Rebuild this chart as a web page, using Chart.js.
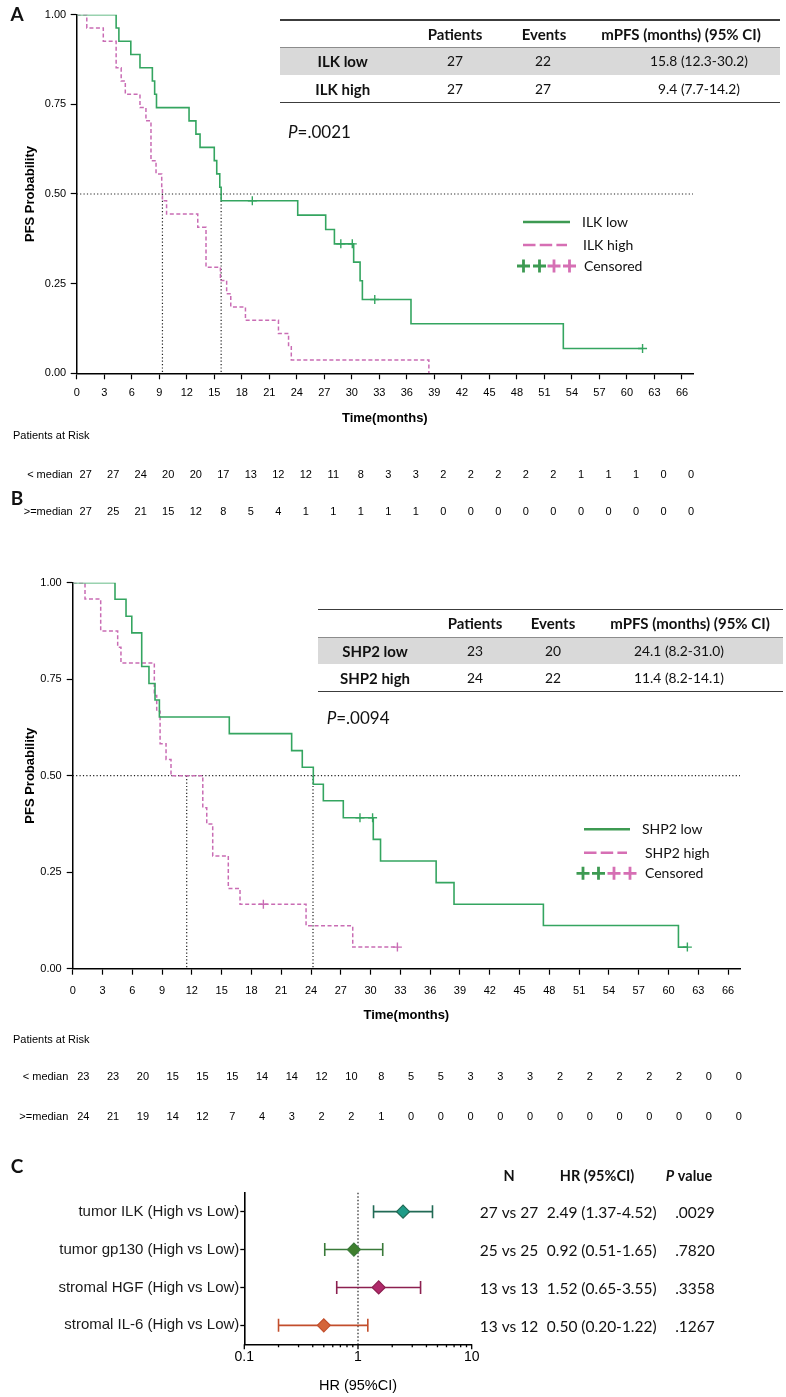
<!DOCTYPE html>
<html>
<head>
<meta charset="utf-8">
<title>PFS by ILK and SHP2 expression</title>
<script src="https://cdn.jsdelivr.net/npm/chart.js@4.4.1/dist/chart.umd.min.js"></script>
<style>
  html, body { margin: 0; padding: 0; background: #fff; }
  #page { position: relative; width: 786px; height: 1397px; overflow: hidden; }
  #page canvas { position: absolute; left: 0; top: 0; }
  .t { position: absolute; white-space: nowrap; font-family: Lato, sans-serif; font-size: 13.8px;
       color: #111; line-height: 1; transform: translate(-50%, -50%); }
  .left { transform: translate(0, -50%); }
  .b { font-weight: bold; font-size: 15px; }
  .rule { position: absolute; background: #3c3c3c; }
  .band { position: absolute; background: #d9d9d9; border-top: 1px solid #8c8c8c; box-sizing: border-box; }
</style>
</head>
<body>
<div id="page">
  <canvas id="kmA" width="786" height="1397"></canvas>
  <canvas id="kmB" width="786" height="1397"></canvas>
  <canvas id="forest" width="786" height="1397"></canvas>
</div>
<script>
// ---------- data ----------
const timeTicks = [0, 3, 6, 9, 12, 15, 18, 21, 24, 27, 30, 33, 36, 39, 42, 45, 48, 51, 54, 57, 60, 63, 66];
const probTicks = [0, 0.25, 0.5, 0.75, 1];

// Panel A - ILK
const ilkLowTime = [0, 4.3, 4.6, 5.9, 6.9, 8.25, 8.5, 8.7, 12.25, 13.0, 13.45, 15.0, 15.27, 15.6, 15.75, 24.1, 27.15, 28.1, 30.2, 30.9, 31.15, 36.45, 53.06, 61.7];
const ilkLowSurv = [1, 0.963, 0.926, 0.889, 0.852, 0.815, 0.778, 0.741, 0.704, 0.667, 0.630, 0.593, 0.556, 0.519, 0.481, 0.441, 0.401, 0.361, 0.310, 0.258, 0.206, 0.138, 0.069, 0.069];
const ilkLowCensTime = [19.15, 28.8, 30.05, 32.5, 61.7];
const ilkLowCensSurv = [0.481, 0.361, 0.361, 0.206, 0.069];
const ilkHighTime = [0, 1.1, 2.9, 4.3, 4.85, 5.3, 6.9, 7.55, 8.1, 8.65, 9.27, 9.35, 9.8, 13.2, 14.1, 15.67, 16.35, 16.8, 18.4, 22.0, 23.1, 23.4, 38.4];
const ilkHighSurv = [1, 0.963, 0.926, 0.852, 0.815, 0.778, 0.741, 0.704, 0.593, 0.556, 0.519, 0.481, 0.444, 0.407, 0.296, 0.259, 0.222, 0.185, 0.148, 0.111, 0.074, 0.037, 0];
const ilkHighCensTime = [];
const ilkHighCensSurv = [];
const ilkMedians = [9.35, 15.75];
const ilkRiskLow = [27, 27, 24, 20, 20, 17, 13, 12, 12, 11, 8, 3, 3, 2, 2, 2, 2, 2, 1, 1, 1, 0, 0];
const ilkRiskHigh = [27, 25, 21, 15, 12, 8, 5, 4, 1, 1, 1, 1, 1, 0, 0, 0, 0, 0, 0, 0, 0, 0, 0];

// Panel B - SHP2
const shpLowTime = [0, 4.26, 5.37, 5.95, 6.95, 7.68, 8.29, 8.73, 15.77, 22.05, 23.12, 24.23, 25.24, 27.25, 30.27, 31.0, 36.6, 38.4, 47.4, 61.0, 61.9];
const shpLowSurv = [1, 0.957, 0.913, 0.870, 0.783, 0.739, 0.696, 0.652, 0.609, 0.565, 0.522, 0.478, 0.435, 0.391, 0.335, 0.279, 0.223, 0.167, 0.112, 0.056, 0.056];
const shpLowCensTime = [28.93, 30.2, 61.9];
const shpLowCensSurv = [0.391, 0.391, 0.056];
const shpHighTime = [0, 1.24, 2.82, 4.53, 4.86, 8.22, 8.46, 8.8, 9.4, 9.9, 13.1, 13.5, 14.1, 15.67, 16.85, 23.5, 28.2, 32.7];
const shpHighSurv = [1, 0.958, 0.875, 0.833, 0.792, 0.708, 0.667, 0.583, 0.542, 0.5, 0.417, 0.375, 0.292, 0.208, 0.167, 0.111, 0.056, 0.056];
const shpHighCensTime = [19.2, 32.7];
const shpHighCensSurv = [0.167, 0.056];
const shpMedians = [11.48, 24.2];
const shpRiskLow = [23, 23, 20, 15, 15, 15, 14, 14, 12, 10, 8, 5, 5, 3, 3, 3, 2, 2, 2, 2, 2, 0, 0];
const shpRiskHigh = [24, 21, 19, 14, 12, 7, 4, 3, 2, 2, 1, 0, 0, 0, 0, 0, 0, 0, 0, 0, 0, 0, 0];

// summary tables
const tableHead = ['Patients', 'Events', 'mPFS (months) (95% CI)'];
const ilkGroups = ['ILK low', 'ILK high'];
const ilkPatients = [27, 27];
const ilkEvents = [22, 27];
const ilkMpfs = ['15.8 (12.3-30.2)', '9.4 (7.7-14.2)'];
const shpGroups = ['SHP2 low', 'SHP2 high'];
const shpPatients = [23, 24];
const shpEvents = [20, 22];
const shpMpfs = ['24.1 (8.2-31.0)', '11.4 (8.2-14.1)'];

// Panel C - forest plot
const forestLabels = ['tumor ILK (High vs Low)', 'tumor gp130 (High vs Low)', 'stromal HGF (High vs Low)', 'stromal IL-6 (High vs Low)'];
const forestHR = [2.49, 0.92, 1.52, 0.50];
const forestLo = [1.37, 0.51, 0.65, 0.20];
const forestHi = [4.52, 1.65, 3.55, 1.22];
const forestN = ['27 vs 27', '25 vs 25', '13 vs 13', '13 vs 12'];
const forestP = ['.0029', '.7820', '.3358', '.1267'];
const forestFill = ['#1e9c88', '#3f7f2e', '#b0296a', '#d4653a'];
const forestLine = ['#216a55', '#3a7a3a', '#8c2050', '#c24e2c'];
const hrTicks = [0.1, 1, 10];
const hrMinor = [0.2, 0.3, 0.4, 0.5, 0.6, 0.7, 0.8, 0.9, 2, 3, 4, 5, 6, 7, 8, 9];

// ---------- styling ----------
const GREEN = '#34a560';
const PINK = '#c96cb4';
const LEG_GREEN = '#3d9a52';
const LEG_PINK = '#d66fb4';
const TXT = 'Lato, sans-serif';

Chart.defaults.font.family = '"Liberation Sans", Arial, sans-serif';
Chart.defaults.color = '#000';

const pts = (xs, ys) => xs.map((x, i) => ({ x: x, y: ys[i] }));

// dotted median lines, risk table and legend for a KM panel
const kmExtras = {
  id: 'kmExtras',
  beforeDatasetsDraw(chart, args, o) {
    const { ctx, scales: { x, y } } = chart;
    ctx.save();
    ctx.strokeStyle = '#222';
    ctx.lineWidth = 1.2;
    ctx.setLineDash([1.2, 2.2]);
    ctx.beginPath();
    const yh = y.getPixelForValue(0.5);
    ctx.moveTo(x.left, yh);
    ctx.lineTo(x.right, yh);
    o.medians.forEach(m => {
      const px = x.getPixelForValue(m);
      ctx.moveTo(px, yh);
      ctx.lineTo(px, y.getPixelForValue(0));
    });
    ctx.stroke();
    ctx.restore();
  },
  afterDraw(chart, args, o) {
    const { ctx, scales: { x } } = chart;
    ctx.save();
    // patients at risk
    const r = o.risk;
    ctx.fillStyle = '#000';
    ctx.font = '11px "Liberation Sans", Arial';
    ctx.textBaseline = 'middle';
    ctx.textAlign = 'left';
    ctx.fillText('Patients at Risk', 13, r.titleY);
    ctx.textAlign = 'right';
    ctx.fillText('< median', r.labelX, r.rowY[0]);
    ctx.fillText('>=median', r.labelX, r.rowY[1]);
    ctx.textAlign = 'center';
    timeTicks.forEach((t, i) => {
      const px = x.getPixelForValue(t) + r.dx;
      ctx.fillText(String(r.low[i]), px, r.rowY[0]);
      ctx.fillText(String(r.high[i]), px, r.rowY[1]);
    });
    // legend
    const lg = o.legend;
    ctx.lineWidth = 2.6;
    ctx.strokeStyle = LEG_GREEN;
    ctx.beginPath(); ctx.moveTo(lg.x1, lg.ys[0]); ctx.lineTo(lg.x2, lg.ys[0]); ctx.stroke();
    ctx.strokeStyle = LEG_PINK;
    ctx.setLineDash([12.5, 4.2]);
    ctx.beginPath(); ctx.moveTo(lg.x1, lg.ys[1]); ctx.lineTo(lg.x2 - 3, lg.ys[1]); ctx.stroke();
    ctx.setLineDash([]);
    ctx.lineWidth = 2.8;
    lg.plusX.forEach((px, i) => {
      ctx.strokeStyle = i < 2 ? LEG_GREEN : LEG_PINK;
      ctx.beginPath();
      ctx.moveTo(px - 6.5, lg.ys[2]); ctx.lineTo(px + 6.5, lg.ys[2]);
      ctx.moveTo(px, lg.ys[2] - 6.5); ctx.lineTo(px, lg.ys[2] + 6.5);
      ctx.stroke();
    });
    ctx.fillStyle = '#111';
    ctx.font = '14px ' + TXT;
    ctx.textAlign = 'left';
    lg.labels.forEach((s, i) => ctx.fillText(s, lg.textX[i], lg.ys[i] + 0.5));
    ctx.restore();
  }
};

function kmChart(id, o) {
  return new Chart(document.getElementById(id), {
    type: 'line',
    data: {
      datasets: [
        { data: pts(o.lowT, o.lowS), stepped: true, borderColor: GREEN, borderWidth: 1.6, pointRadius: 0, fill: false },
        { data: pts(o.highT, o.highS), stepped: true, borderColor: PINK, borderWidth: 1.5, borderDash: [4, 2.5], pointRadius: 0, fill: false },
        { type: 'scatter', data: pts(o.lowCT, o.lowCS), pointStyle: 'cross', pointRadius: 4.5, borderColor: GREEN, borderWidth: 1.4, showLine: false },
        { type: 'scatter', data: pts(o.highCT, o.highCS), pointStyle: 'cross', pointRadius: 4.5, borderColor: PINK, borderWidth: 1.4, showLine: false }
      ]
    },
    options: {
      responsive: false,
      animation: false,
      events: [],
      layout: { padding: o.pad },
      plugins: { legend: { display: false }, tooltip: { enabled: false }, kmExtras: o.extras },
      scales: {
        x: {
          type: 'linear', min: 0, max: 67.2,
          afterBuildTicks: s => { s.ticks = timeTicks.map(v => ({ value: v })); },
          afterFit: s => { s.height = 57; },
          grid: { drawOnChartArea: false, color: '#000', tickLength: 6, tickWidth: 1.2 },
          border: { color: '#000', width: 1.5 },
          ticks: { font: { size: 11 }, padding: o.xpad, maxRotation: 0, autoSkip: false },
          title: { display: true, text: 'Time(months)', font: { size: 13, weight: 'bold' }, padding: { top: 0, bottom: o.tpad } }
        },
        y: {
          min: 0, max: 1,
          afterBuildTicks: s => { s.ticks = probTicks.map(v => ({ value: v })); },
          afterFit: s => { s.width = o.yw; },
          grid: { drawOnChartArea: false, color: '#000', tickLength: 6, tickWidth: 1.2 },
          border: { color: '#000', width: 1.5 },
          ticks: { font: { size: 11 }, padding: o.ypad, callback: v => v.toFixed(2) },
          title: { display: true, text: 'PFS Probability', font: { size: 13, weight: 'bold' }, padding: { top: 23, bottom: 0 } }
        }
      }
    },
    plugins: [kmExtras]
  });
}

kmChart('kmA', {
  lowT: ilkLowTime, lowS: ilkLowSurv, lowCT: ilkLowCensTime, lowCS: ilkLowCensSurv,
  highT: ilkHighTime, highS: ilkHighSurv, highCT: ilkHighCensTime, highCS: ilkHighCensSurv,
  pad: { top: 14.7, right: 93, bottom: 1397 - 430.3, left: 0 },
  yw: 76.7, xpad: 7, ypad: 4.5, tpad: 4.5,
  extras: {
    medians: ilkMedians,
    risk: { titleY: 436, rowY: [475, 511.7], labelX: 72.7, dx: 9, low: ilkRiskLow, high: ilkRiskHigh },
    legend: { x1: 523, x2: 570, ys: [222, 245, 266], plusX: [523.5, 539.5, 554, 569.5],
              textX: [582, 583, 584], labels: ['ILK low', 'ILK high', 'Censored'] }
  }
});

kmChart('kmB', {
  lowT: shpLowTime, lowS: shpLowSurv, lowCT: shpLowCensTime, lowCS: shpLowCensSurv,
  highT: shpHighTime, highS: shpHighSurv, highCT: shpHighCensTime, highCS: shpHighCensSurv,
  pad: { top: 582.7, right: 46, bottom: 1397 - 1025.7, left: 0 },
  yw: 72.7, xpad: 9.4, ypad: 5, tpad: 2,
  extras: {
    medians: shpMedians,
    risk: { titleY: 1040, rowY: [1077, 1117], labelX: 68.3, dx: 10.6, low: shpRiskLow, high: shpRiskHigh },
    legend: { x1: 584, x2: 630, ys: [829.3, 852.7, 873.3], plusX: [583, 598.5, 614, 630],
              textX: [642, 645, 645], labels: ['SHP2 low', 'SHP2 high', 'Censored'] }
  }
});

// error bars, axis ticks and right-hand columns for the forest plot
const forestExtras = {
  id: 'forestExtras',
  beforeDatasetsDraw(chart) {
    const { ctx, scales: { x, y } } = chart;
    ctx.save();
    ctx.strokeStyle = '#333';
    ctx.lineWidth = 1.3;
    ctx.setLineDash([1.5, 2]);
    const x1 = x.getPixelForValue(1);
    ctx.beginPath(); ctx.moveTo(x1, y.top); ctx.lineTo(x1, y.bottom); ctx.stroke();
    ctx.setLineDash([]);
    ctx.lineWidth = 1.6;
    forestLabels.forEach((lab, i) => {
      const py = y.getPixelForValue(i);
      const a = x.getPixelForValue(forestLo[i]);
      const b = x.getPixelForValue(forestHi[i]);
      ctx.strokeStyle = forestLine[i];
      ctx.beginPath();
      ctx.moveTo(a, py); ctx.lineTo(b, py);
      ctx.moveTo(a, py - 6.5); ctx.lineTo(a, py + 6.5);
      ctx.moveTo(b, py - 6.5); ctx.lineTo(b, py + 6.5);
      ctx.stroke();
    });
    ctx.restore();
  },
  afterDraw(chart) {
    const { ctx, scales: { x, y } } = chart;
    ctx.save();
    ctx.strokeStyle = '#000';
    ctx.lineWidth = 1.3;
    ctx.beginPath();
    hrMinor.forEach(v => { const px = x.getPixelForValue(v); ctx.moveTo(px, x.top); ctx.lineTo(px, x.top + 3); });
    hrTicks.forEach(v => { const px = x.getPixelForValue(v); ctx.moveTo(px, x.top); ctx.lineTo(px, x.top + 5); });
    ctx.stroke();

    ctx.fillStyle = '#111';
    ctx.textBaseline = 'middle';
    ctx.textAlign = 'center';
    ctx.font = 'bold 14.5px ' + TXT;
    ctx.fillText('N', 509, 1176.7);
    ctx.fillText('HR (95%CI)', 597, 1176.7);
    // "P value" with italic P
    ctx.font = 'italic bold 14.5px ' + TXT;
    const pw = ctx.measureText('P').width;
    ctx.font = 'bold 14.5px ' + TXT;
    const vw = ctx.measureText(' value').width;
    const px0 = 689 - (pw + vw) / 2;
    ctx.textAlign = 'left';
    ctx.font = 'italic bold 14.5px ' + TXT;
    ctx.fillText('P', px0, 1176.7);
    ctx.font = 'bold 14.5px ' + TXT;
    ctx.fillText(' value', px0 + pw, 1176.7);

    ctx.textAlign = 'center';
    ctx.font = '15.5px ' + TXT;
    forestLabels.forEach((lab, i) => {
      const py = y.getPixelForValue(i) + 1.5;
      const hrText = forestHR[i].toFixed(2) + ' (' + forestLo[i].toFixed(2) + '-' + forestHi[i].toFixed(2) + ')';
      ctx.fillText(forestN[i], 509, py);
      ctx.fillText(hrText, 601.7, py);
      ctx.fillText(forestP[i], 695, py);
    });
    ctx.restore();
  }
};

new Chart(document.getElementById('forest'), {
  type: 'scatter',
  data: {
    yLabels: forestLabels,
    datasets: [{
      data: forestHR.map((v, i) => ({ x: v, y: forestLabels[i] })),
      pointStyle: 'rectRot', pointRadius: 6.5,
      backgroundColor: forestFill, borderColor: forestLine, borderWidth: 1.2
    }]
  },
  options: {
    responsive: false,
    animation: false,
    events: [],
    layout: { padding: { top: 1192.7, right: 314.3, bottom: 0, left: 0 } },
    plugins: { legend: { display: false }, tooltip: { enabled: false } },
    scales: {
      x: {
        type: 'logarithmic', min: 0.1, max: 10,
        afterBuildTicks: s => { s.ticks = hrTicks.map(v => ({ value: v })); },
        afterFit: s => { s.height = 52.7; },
        grid: { drawOnChartArea: false, drawTicks: false },
        border: { color: '#000', width: 1.6 },
        ticks: { font: { size: 14 }, padding: 4, autoSkip: false, maxRotation: 0, callback: v => String(v) },
        title: { display: true, text: 'HR (95%CI)', font: { size: 14.5 }, padding: { top: 0, bottom: 2 } }
      },
      y: {
        type: 'category', labels: forestLabels, offset: true,
        afterFit: s => { s.width = 244.3; },
        grid: { drawOnChartArea: false, offset: false, color: '#000', tickLength: 4, tickWidth: 1.3 },
        border: { color: '#000', width: 1.6 },
        ticks: { font: { size: 15 }, padding: 1, color: '#1a1a1a' }
      }
    }
  },
  plugins: [forestExtras]
});

// ---------- HTML text: panel letters, summary tables, P values ----------
const page = document.getElementById('page');
function put(html, x, y, cls, size) {
  const d = document.createElement('div');
  d.className = 't ' + (cls || '');
  d.style.left = x + 'px';
  d.style.top = y + 'px';
  if (size) d.style.fontSize = size + 'px';
  d.innerHTML = html;
  page.appendChild(d);
}
function box(cls, x, y, w, h) {
  const d = document.createElement('div');
  d.className = cls;
  Object.assign(d.style, { left: x + 'px', top: y + 'px', width: w + 'px', height: h + 'px' });
  page.appendChild(d);
}

put('A', 17, 13, 'b', 19);
put('B', 17, 497, 'b', 19);
put('C', 17, 1165, 'b', 19);

function summaryTable(t) {
  box('rule', t.left, t.top - 0.75, t.width, 1.5);
  box('band', t.left, t.bandTop, t.width, t.bandBottom - t.bandTop);
  box('rule', t.left, t.bottom - 0.75, t.width, 1.5);
  tableHead.forEach((h, i) => put(h, t.headX[i], t.headY, 'b'));
  t.groups.forEach((g, r) => {
    put(g, t.labelX, t.rowY[r], 'b');
    put(String(t.patients[r]), t.colX[0], t.rowY[r]);
    put(String(t.events[r]), t.colX[1], t.rowY[r]);
    put(t.mpfs[r], t.colX[2], t.rowY[r]);
  });
}

summaryTable({ left: 280, width: 500, top: 20, bandTop: 46.7, bandBottom: 75, bottom: 102.3,
  headY: 33.5, rowY: [61, 88.7], labelX: 342.7, colX: [455, 543, 699], headX: [455, 544, 681],
  groups: ilkGroups, patients: ilkPatients, events: ilkEvents, mpfs: ilkMpfs });
summaryTable({ left: 318, width: 465, top: 609.3, bandTop: 636.7, bandBottom: 664, bottom: 691.7,
  headY: 623, rowY: [650.5, 678], labelX: 375, colX: [475, 553, 679], headX: [475, 553, 690],
  groups: shpGroups, patients: shpPatients, events: shpEvents, mpfs: shpMpfs });

put('<i>P</i>=.0021', 288, 130.7, 'left', 17);
put('<i>P</i>=.0094', 326.7, 716.7, 'left', 17);
</script>
</body>
</html>
